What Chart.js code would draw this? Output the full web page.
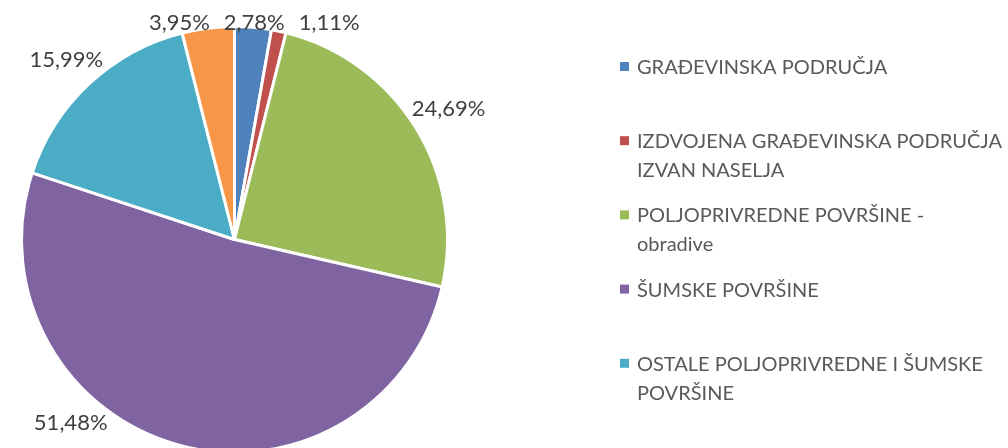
<!DOCTYPE html>
<html>
<head>
<meta charset="utf-8">
<script src="https://cdn.jsdelivr.net/npm/chart.js@4.4.0/dist/chart.umd.min.js"></script>
<style>
  html, body { margin: 0; padding: 0; background: #fff; overflow: hidden; }
  #wrap { width: 1008px; height: 448px; overflow: hidden; }
</style>
</head>
<body>
<div id="wrap"><canvas id="chart1" width="1008" height="480"></canvas></div>
<script>
// data (legend lines broken as in the original)
const categories = [
  ['GRAĐEVINSKA PODRUČJA'],
  ['IZDVOJENA GRAĐEVINSKA PODRUČJA', 'IZVAN NASELJA'],
  ['POLJOPRIVREDNE POVRŠINE -', 'obradive'],
  ['ŠUMSKE POVRŠINE'],
  ['OSTALE POLJOPRIVREDNE I ŠUMSKE', 'POVRŠINE'],
  ['VODNE POVRŠINE']
];
const shares = [2.78, 1.11, 24.69, 51.48, 15.99, 3.95];
const sliceColors = ['#4F81BD', '#C0504D', '#9BBB59', '#8064A2', '#4BACC6', '#F79646'];
// last entry falls off the bottom of the legend in the original
const inLegend = [true, true, true, true, true, false];

const FONT = 'Lato, "Open Sans", sans-serif';

function pct(v) {
  return v.toFixed(2).replace('.', ',') + '%';
}

// percentage labels outside the pie, Excel "outside end" style
const pctLabels = {
  id: 'pctLabels',
  afterDatasetsDraw(chart) {
    const ctx = chart.ctx;
    const meta = chart.getDatasetMeta(0);
    const yMin = 22, yMax = 422, h = 18, gap = 14;
    ctx.save();
    ctx.font = '22px ' + FONT;
    ctx.fillStyle = '#404040';
    ctx.textAlign = 'center';
    ctx.textBaseline = 'alphabetic';
    const placed = [];
    meta.data.forEach((arc, i) => {
      const p = arc.getProps(['x', 'y', 'startAngle', 'endAngle', 'outerRadius'], true);
      const mid = (p.startAngle + p.endAngle) / 2;
      const ux = Math.cos(mid), uy = Math.sin(mid);
      const txt = pct(shares[i]);
      const w = ctx.measureText(txt).width;
      const d = p.outerRadius + 2 + Math.abs(ux) * w / 2 + Math.abs(uy) * h / 2;
      let x = p.x + ux * d;
      let y = p.y + uy * d;
      if (y < yMin) y = yMin;
      if (y > yMax) {
        y = yMax;
        // slide sideways until the box clears the pie
        const dir = x < p.x ? -1 : 1;
        const dy = (y - h / 2) - p.y;
        const need = p.outerRadius + 2;
        if (Math.abs(dy) < need) {
          const cx = p.x + dir * Math.sqrt(need * need - dy * dy) + dir * w / 2;
          if (dir < 0 ? cx < x : cx > x) x = cx;
        }
      }
      // push away from labels already placed
      placed.forEach(o => {
        const overlapX = Math.abs(x - o.x) < (w + o.w) / 2 + gap;
        const overlapY = Math.abs(y - o.y) < h;
        if (overlapX && overlapY) {
          x = x >= o.x ? o.x + o.w / 2 + gap + w / 2 : o.x - o.w / 2 - gap - w / 2;
        }
      });
      placed.push({ x, y, w });
      ctx.fillText(txt, x, y + 8);
    });
    ctx.restore();
  }
};

// legend on the right
const sideLegend = {
  id: 'sideLegend',
  afterDraw(chart) {
    const ctx = chart.ctx;
    const boxX = 620, textX = 637;
    const firstBase = 74, step = 74.2, lineH = 29;
    ctx.save();
    ctx.font = '20px ' + FONT;
    ctx.textBaseline = 'alphabetic';
    ctx.textAlign = 'left';
    let k = 0;
    categories.forEach((lines, i) => {
      if (!inLegend[i]) return;
      const base = firstBase + k * step;
      ctx.fillStyle = sliceColors[i];
      ctx.fillRect(boxX, base - 12, 9, 9);
      ctx.fillStyle = '#595959';
      lines.forEach((ln, n) => ctx.fillText(ln, textX, base + n * lineH));
      k++;
    });
    ctx.restore();
  }
};

const ctx = document.getElementById('chart1').getContext('2d');
const myChart = new Chart(ctx, {
  type: 'pie',
  data: {
    labels: categories,
    datasets: [{
      data: shares,
      backgroundColor: sliceColors,
      borderColor: '#ffffff',
      borderWidth: 3
    }]
  },
  options: {
    responsive: false,
    animation: false,
    layout: { padding: { left: 20, top: 25, right: 559, bottom: 26 } },
    plugins: {
      legend: { display: false },
      tooltip: { enabled: false }
    }
  },
  plugins: [pctLabels, sideLegend]
});
</script>
</body>
</html>
